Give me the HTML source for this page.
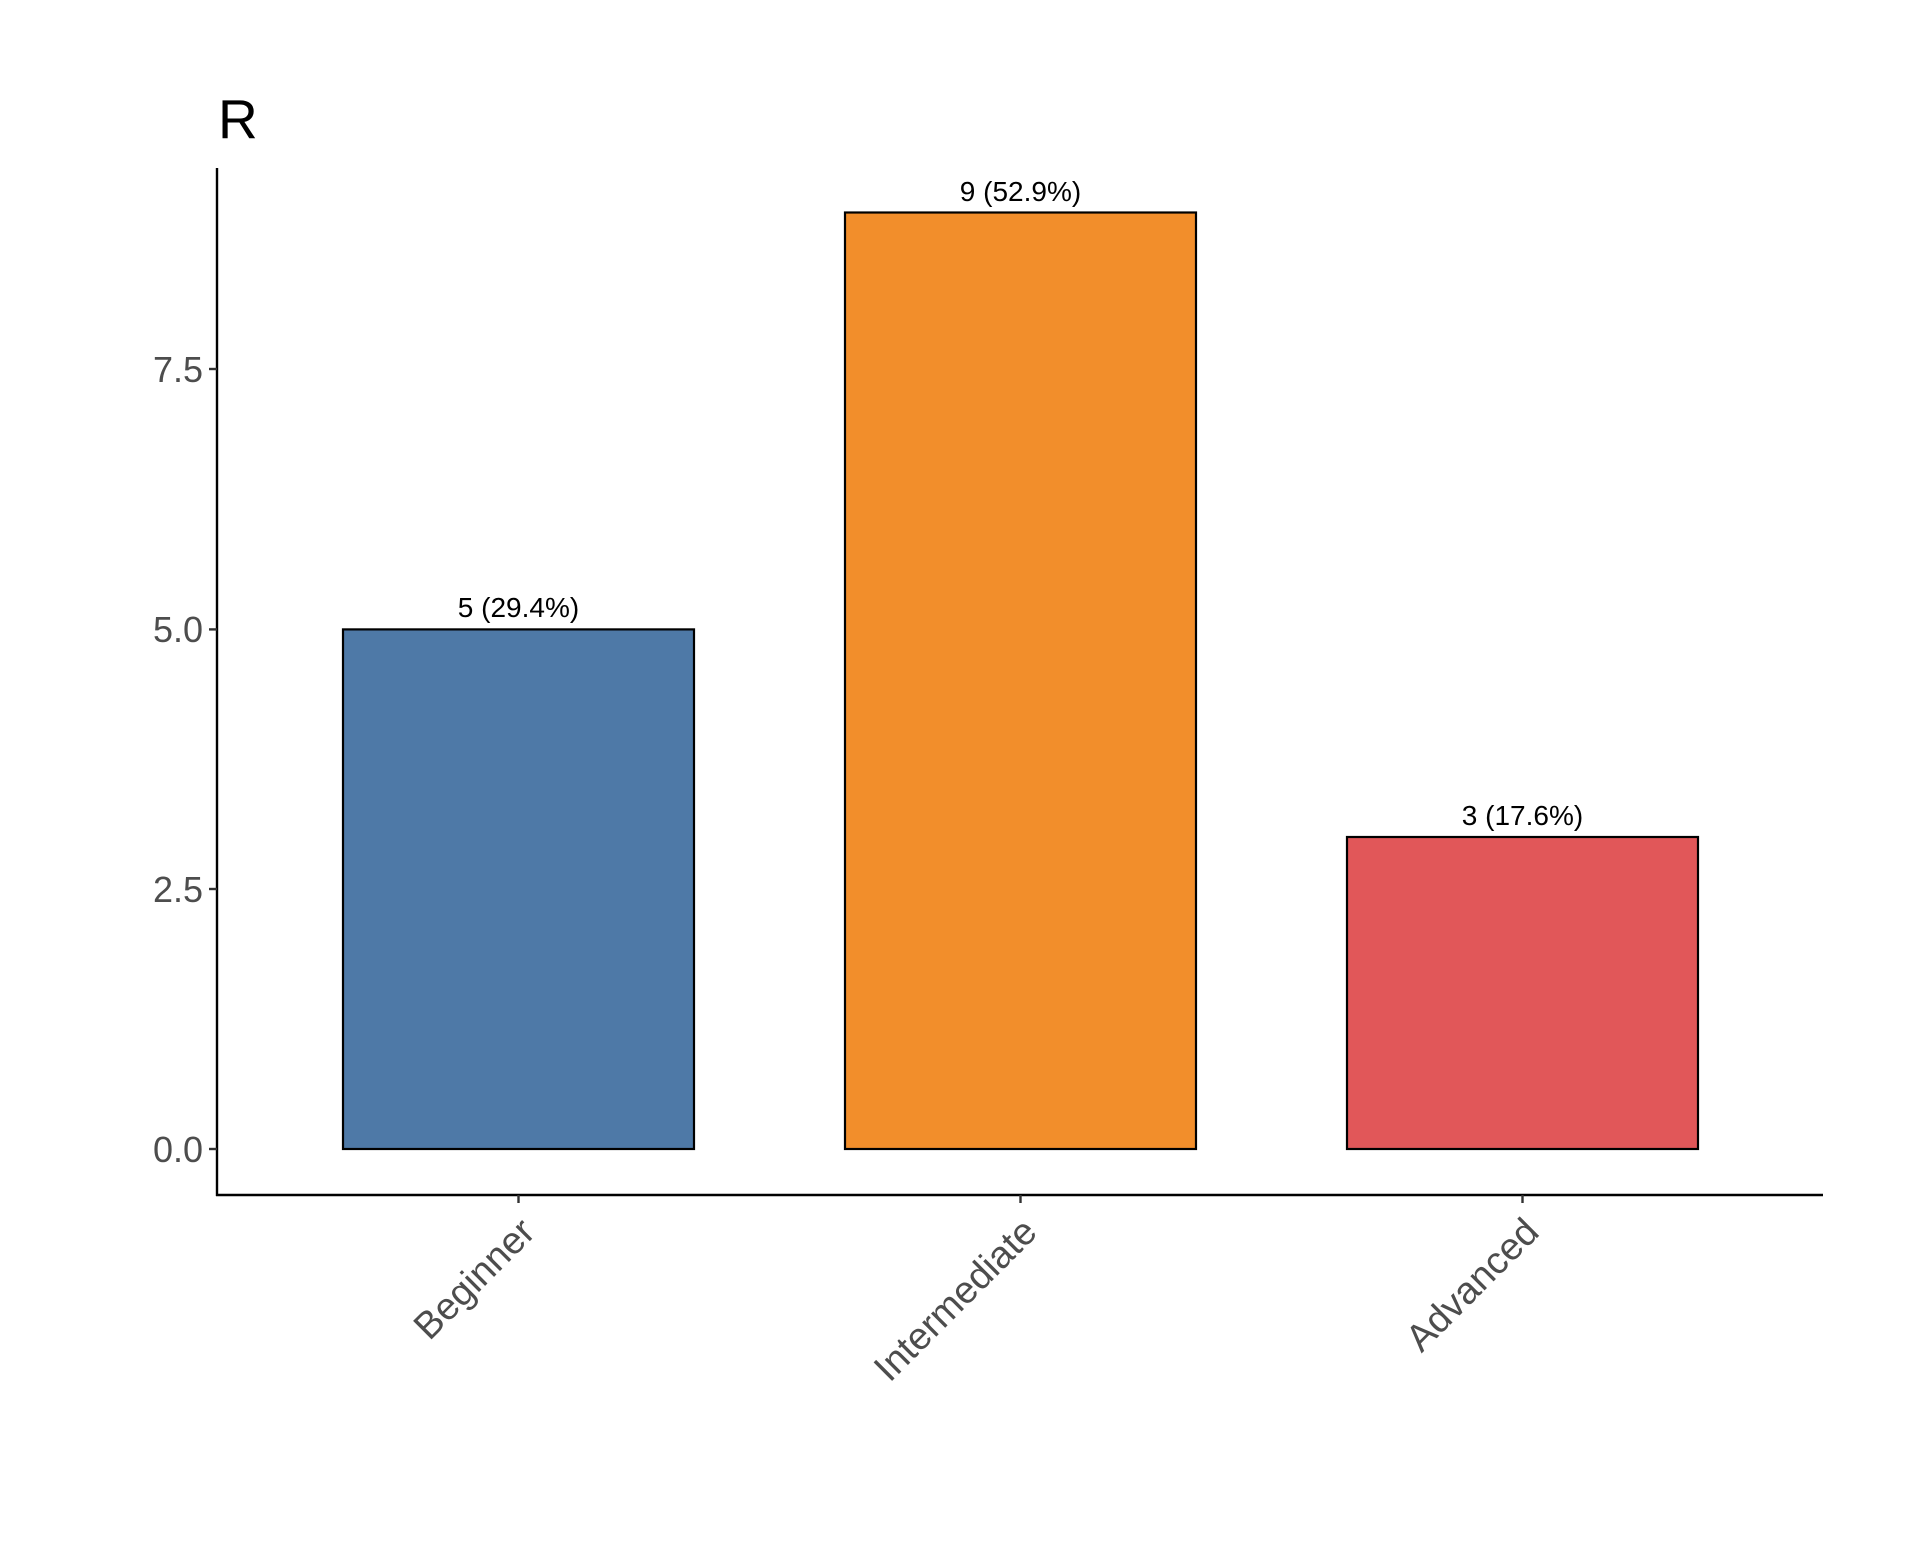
<!DOCTYPE html>
<html><head><meta charset="utf-8"><style>html,body{margin:0;padding:0;background:#fff}</style></head>
<body>
<svg width="1920" height="1536" viewBox="0 0 1920 1536" xmlns="http://www.w3.org/2000/svg" font-family="Liberation Sans, Arial, sans-serif">
<rect width="1920" height="1536" fill="#fff"/>
<text x="218" y="138" font-size="55" fill="#000">R</text>
<g stroke="#000" stroke-width="2.2">
<rect x="343" y="629.4" width="351" height="519.6" fill="#4E79A7"/>
<rect x="845" y="212.5" width="351" height="936.5" fill="#F28E2B"/>
<rect x="1347" y="837" width="351" height="312" fill="#E15759"/>
</g>
<g font-size="28" fill="#000" text-anchor="middle">
<text x="518.5" y="617">5 (29.4%)</text>
<text x="1020.5" y="201">9 (52.9%)</text>
<text x="1522.5" y="825">3 (17.6%)</text>
</g>
<g stroke="#000" stroke-width="2.4" fill="none">
<line x1="217" y1="168" x2="217" y2="1196"/>
<line x1="216" y1="1195" x2="1823" y2="1195"/>
</g>
<g stroke="#333" stroke-width="2.4">
<line x1="209" y1="1149" x2="217" y2="1149"/>
<line x1="209" y1="889" x2="217" y2="889"/>
<line x1="209" y1="629.4" x2="217" y2="629.4"/>
<line x1="209" y1="369" x2="217" y2="369"/>
<line x1="518.5" y1="1195" x2="518.5" y2="1203"/>
<line x1="1020.5" y1="1195" x2="1020.5" y2="1203"/>
<line x1="1522.5" y1="1195" x2="1522.5" y2="1203"/>
</g>
<g font-size="36" fill="#4d4d4d" text-anchor="end">
<text x="203" y="1162">0.0</text>
<text x="203" y="902">2.5</text>
<text x="203" y="642">5.0</text>
<text x="203" y="382">7.5</text>
</g>
<g font-size="38" fill="#4d4d4d" text-anchor="end">
<text transform="translate(537,1234) rotate(-45)">Beginner</text>
<text transform="translate(1039,1234) rotate(-45)">Intermediate</text>
<text transform="translate(1541,1234) rotate(-45)">Advanced</text>
</g>
</svg>
</body></html>
